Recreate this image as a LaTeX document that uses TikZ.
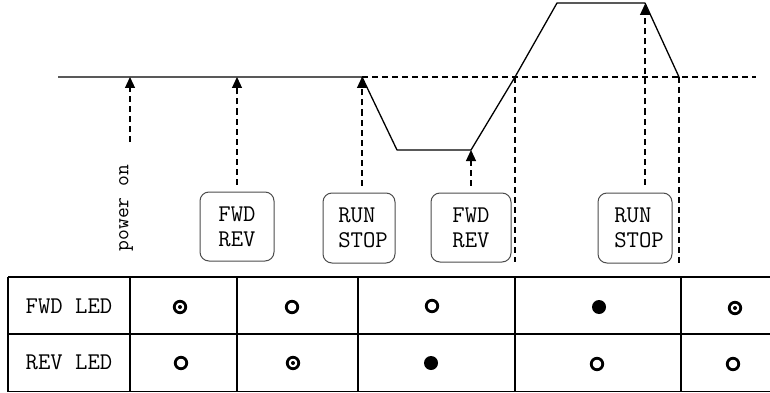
\documentclass[tikz,border=0pt]{standalone}
\usetikzlibrary{arrows.meta}
\begin{document}
\begin{tikzpicture}[x=1pt,y=-1pt,
  curve/.style={line width=1.3pt, line join=round},
  guide/.style={line width=1.2pt, dash pattern=on 6pt off 4pt},
  uparrow/.style={guide, -{Triangle[length=11pt,width=10pt]}},
  keybox/.style={draw=black!70, line width=1pt, rounded corners=9pt, align=left,
    font=\ttfamily\fontsize{24}{25}\selectfont, inner sep=0pt},
  grid/.style={line width=1.3pt},
  lbl/.style={font=\ttfamily\fontsize{24}{25}\selectfont},
  ledoff/.style={circle, draw, line width=2.8pt, minimum size=11.5pt, inner sep=0pt},
  ledon/.style={circle, fill, minimum size=14pt, inner sep=0pt},
  ledblink/.style={ledoff, path picture={\fill (path picture bounding box.center) circle (2pt);}}
]
\useasboundingbox (0,0) rectangle (770,393);

% speed curve points
\coordinate (s0) at (58,77);
\coordinate (a1) at (130,77);
\coordinate (a2) at (237,77);
\coordinate (c0) at (362,77);
\coordinate (b0) at (397,150);
\coordinate (b1) at (471,150);
\coordinate (z1) at (515,77);
\coordinate (t0) at (557,3);
\coordinate (t1) at (645,3);
\coordinate (z2) at (679,77);
\coordinate (e)  at (756,77);
\coordinate (zb1) at (515,262);
\coordinate (zb2) at (679,266);
\coordinate (pstart) at (130,142);

\draw[guide] (c0) -- (e);
\draw[guide] (z1) -- (zb1);
\draw[guide] (z2) -- (zb2);
\draw[curve] (s0) -- (c0) -- (b0) -- (b1) -- (z1) -- (t0) -- (t1) -- (z2);

% keys
\node[lbl, rotate=90, font=\ttfamily\fontsize{21}{22}\selectfont] (pon) at (126,208) {power on};
\node[keybox, minimum width=74pt, minimum height=69pt] (k1) at (237,226.5) {FWD\\REV};
\node[keybox, minimum width=72pt, minimum height=70pt] (k2) at (359,228) {\hspace*{8pt}RUN\\\hspace*{8pt}STOP};
\node[keybox, minimum width=80pt, minimum height=69pt] (k3) at (471,227.5) {FWD\\REV};
\node[keybox, minimum width=74pt, minimum height=70pt] (k4) at (635,228) {\hspace*{8pt}RUN\\\hspace*{8pt}STOP};

\draw[uparrow] (pstart) -- (a1);
\draw[uparrow, shorten <=7pt] (k1.north) -- (a2);
\draw[uparrow, shorten <=7pt] (k2.north -| c0) -- (c0);
\draw[uparrow, shorten <=7pt] (k3.north) -- (b1);
\draw[uparrow, shorten <=8pt, shorten >=1pt] (k4.north -| t1) -- (t1);

% table
\draw[grid] (8,277) -- (770,277);
\draw[grid] (8,334) -- (770,334);
\draw[grid] (8,391.5) -- (770,391.5);
\foreach \cx in {8,130,237,358,515,681} \draw[grid] (\cx,277) -- (\cx,391.5);

\node[lbl] (fl) at (69,306) {FWD LED};
\node[lbl] (rl) at (69,362) {REV LED};

\node[ledblink] (f1) at (180,307) {};
\node[ledoff]   (f2) at (292,307) {};
\node[ledoff]   (f3) at (432,306) {};
\node[ledon]    (f4) at (599,307) {};
\node[ledblink] (f5) at (735,308) {};

\node[ledoff]   (r1) at (181,363) {};
\node[ledblink] (r2) at (293,363) {};
\node[ledon]    (r3) at (431,363) {};
\node[ledoff]   (r4) at (597,364) {};
\node[ledoff]   (r5) at (733,364) {};
\end{tikzpicture}
\end{document}
